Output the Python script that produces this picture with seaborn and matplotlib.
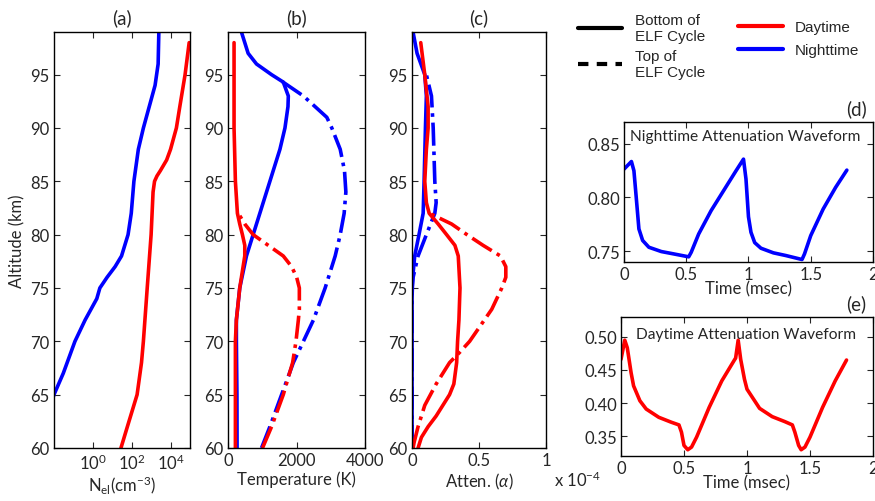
import seaborn as sns
import matplotlib.pyplot as plt
from matplotlib.lines import Line2D

sns.set_style('ticks')
plt.rcParams['font.family'] = ['Lato', 'DejaVu Sans']
plt.rcParams['mathtext.fontset'] = 'custom'
plt.rcParams['mathtext.rm'] = 'Lato'
plt.rcParams['mathtext.it'] = 'Lato:italic'
plt.rcParams['xtick.direction'] = 'in'
plt.rcParams['ytick.direction'] = 'in'
plt.rcParams['xtick.top'] = True
plt.rcParams['ytick.right'] = True
plt.rcParams['axes.edgecolor'] = 'black'
plt.rcParams['axes.linewidth'] = 1.0
plt.rcParams['font.size'] = 12

RED = '#ff0000'
BLUE = '#0000ff'
LW = 2.6

# (a) electron density
a_alt_night = [63, 65, 67, 70, 72, 74, 75, 76, 77, 78, 80, 82, 85, 88, 90, 92, 94, 96, 99]
a_ne_night = [0.004, 0.01, 0.03, 0.12, 0.4, 1.6, 2.3, 5.4, 14, 30, 65, 95, 130, 220, 400, 800, 1600, 2300, 2500]
a_alt_day = [60, 62, 65, 68, 70, 75, 80, 84, 85, 85.5, 86, 87, 88, 90, 92, 95, 98]
a_ne_day = [28, 60, 190, 320, 400, 630, 1000, 1260, 1500, 2000, 3000, 6300, 10000, 20000, 30000, 56000, 91000]

# (b) temperature
b_alt_night_bot = [60, 65, 70, 72, 75, 78, 80, 85, 88, 90, 92, 93, 94.3, 95, 96, 97, 99]
b_T_night_bot = [264, 260, 244, 244, 342, 538, 733, 1222, 1515, 1662, 1750, 1760, 1613, 1271, 831, 587, 391]
b_alt_night_top = [60, 62, 65, 68, 70, 72, 75, 78, 80, 82, 84, 86, 88, 90, 91, 93, 94.5]
b_T_night_top = [978, 1222, 1564, 1906, 2200, 2493, 2835, 3128, 3275, 3390, 3440, 3400, 3275, 3030, 2884, 2200, 1515]
b_alt_day_bot = [60, 70, 72, 75, 77, 78, 79, 80, 81, 82, 85, 90, 98]
b_T_day_bot = [215, 215, 244, 342, 440, 489, 489, 420, 342, 274, 215, 176, 176]
b_alt_day_top = [60, 62, 65, 68, 70, 72, 73, 75, 76, 77, 78, 79, 80, 81, 82]
b_T_day_top = [1007, 1271, 1613, 1886, 1984, 2053, 2082, 2082, 2004, 1857, 1613, 1173, 733, 489, 300]

# (c) attenuation, units of 1e-4
c_alt_night_bot = [60, 74, 76, 78, 80, 82, 85, 90, 93, 95, 97, 99]
c_att_night_bot = [0, 0, 0.005, 0.02, 0.052, 0.083, 0.09, 0.10, 0.107, 0.095, 0.0375, 0.0075]
c_alt_night_top = [60, 75, 76, 78, 80, 82, 83, 85, 90, 93, 95]
c_att_night_top = [0, 0, 0.008, 0.045, 0.107, 0.17, 0.18, 0.17, 0.158, 0.145, 0.107]
c_alt_day_bot = [60, 61, 62, 63, 65, 66, 68, 70, 72, 75, 78, 79, 80, 81, 82, 83, 85, 88, 90, 92, 95, 98]
c_att_day_bot = [0.045, 0.07, 0.12, 0.18, 0.28, 0.312, 0.333, 0.34, 0.35, 0.358, 0.345, 0.32, 0.258, 0.195, 0.128, 0.107, 0.095, 0.107, 0.12, 0.12, 0.095, 0.065]
c_alt_day_top = [60, 60.5, 62, 64, 66, 68, 69, 70, 73, 75, 76, 77, 78, 79, 80, 81, 82]
c_att_day_top = [0.008, 0.015, 0.045, 0.095, 0.18, 0.28, 0.358, 0.43, 0.595, 0.67, 0.70, 0.70, 0.66, 0.53, 0.41, 0.295, 0.13]

# (d) nighttime waveform
d_t = [0, 0.06, 0.08, 0.1, 0.12, 0.15, 0.2, 0.3, 0.4, 0.52, 0.54, 0.6, 0.7, 0.8, 0.9, 0.96,
       0.98, 1.0, 1.02, 1.05, 1.1, 1.2, 1.3, 1.43, 1.45, 1.5, 1.6, 1.7, 1.79]
d_att = [0.8262, 0.8333, 0.8247, 0.798, 0.7707, 0.760, 0.7537, 0.7497, 0.7475, 0.7448, 0.749,
         0.766, 0.7877, 0.8062, 0.8247, 0.8355, 0.817, 0.782, 0.7676, 0.758, 0.7528, 0.7485,
         0.746, 0.7423, 0.7475, 0.7645, 0.7892, 0.8093, 0.8253]

# (e) daytime waveform
e_t = [0, 0.03, 0.05, 0.08, 0.1, 0.15, 0.2, 0.3, 0.4, 0.46, 0.48, 0.5, 0.53, 0.56, 0.6, 0.7,
       0.8, 0.9, 0.91, 0.93, 0.95, 0.98, 1.0, 1.1, 1.2, 1.3, 1.36, 1.38, 1.41, 1.43, 1.46,
       1.5, 1.6, 1.7, 1.79]
e_att = [0.466, 0.495, 0.4835, 0.446, 0.426, 0.4035, 0.391, 0.3785, 0.371, 0.367, 0.356,
         0.336, 0.3295, 0.3335, 0.3485, 0.3935, 0.4335, 0.465, 0.468, 0.495, 0.466, 0.436,
         0.421, 0.392, 0.3795, 0.372, 0.367, 0.356, 0.336, 0.3295, 0.3335, 0.3485, 0.3935,
         0.4335, 0.465]

fig = plt.figure(figsize=(8.75, 5.02), dpi=100)
ax_a = fig.add_axes([0.0617, 0.1056, 0.1554, 0.8287])
ax_b = fig.add_axes([0.2606, 0.1056, 0.1566, 0.8287])
ax_c = fig.add_axes([0.4709, 0.1056, 0.1531, 0.8287])
ax_d = fig.add_axes([0.7131, 0.4761, 0.2846, 0.2789])
ax_e = fig.add_axes([0.7097, 0.0896, 0.2880, 0.2769])


def prof(ax, x, y, color, ls='-'):
    sns.lineplot(x=x, y=y, ax=ax, color=color, lw=LW, linestyle=ls,
                 sort=False, estimator=None)


prof(ax_a, a_ne_night, a_alt_night, BLUE)
prof(ax_a, a_ne_day, a_alt_day, RED)
ax_a.set_xscale('log')
ax_a.set_xlim(1e-2, 1e5)
ax_a.set_xticks([1, 1e2, 1e4])
ax_a.set_xticklabels([r'$\mathregular{10^{0}}$', r'$\mathregular{10^{2}}$', r'$\mathregular{10^{4}}$'])
ax_a.minorticks_off()
ax_a.set_xlabel(r'$\mathregular{N_{el}(cm^{-3})}$', labelpad=1)
ax_a.set_ylabel('Altitude (km)')

prof(ax_b, b_T_night_top, b_alt_night_top, BLUE, '-.')
prof(ax_b, b_T_night_bot, b_alt_night_bot, BLUE)
prof(ax_b, b_T_day_top, b_alt_day_top, RED, '-.')
prof(ax_b, b_T_day_bot, b_alt_day_bot, RED)
ax_b.set_xlim(0, 4000)
ax_b.set_xticks([0, 2000, 4000])
ax_b.set_xlabel('Temperature (K)', labelpad=2)

prof(ax_c, c_att_night_top, c_alt_night_top, BLUE, '-.')
prof(ax_c, c_att_night_bot, c_alt_night_bot, BLUE)
prof(ax_c, c_att_day_top, c_alt_day_top, RED, '-.')
prof(ax_c, c_att_day_bot, c_alt_day_bot, RED)
ax_c.set_xlim(0, 1)
ax_c.set_xticks([0, 0.5, 1])
ax_c.set_xticklabels(['0', '0.5', '1'])
ax_c.set_xlabel(r'Atten. ($\alpha$)', labelpad=2)
ax_c.text(1.06, -0.075, r'x 10$^{-4}$', transform=ax_c.transAxes,
          ha='left', va='center', fontsize=12)

for ax, t in zip([ax_a, ax_b, ax_c], ['(a)', '(b)', '(c)']):
    ax.set_ylim(60, 99)
    ax.set_yticks(range(60, 100, 5))
    ax.set_title(t, fontsize=13.5, pad=6)

prof(ax_d, d_t, d_att, BLUE)
ax_d.set_ylim(0.74, 0.87)
ax_d.set_yticks([0.75, 0.80, 0.85])
ax_d.text(0.025, 0.9, 'Nighttime Attenuation Waveform', transform=ax_d.transAxes,
          ha='left', va='center', fontsize=11.2)
ax_d.text(0.975, 1.1, '(d)', transform=ax_d.transAxes, ha='right', va='center', fontsize=13.5)

prof(ax_e, e_t, e_att, RED)
ax_e.set_ylim(0.32, 0.53)
ax_e.set_yticks([0.35, 0.40, 0.45, 0.50])
ax_e.text(0.06, 0.88, 'Daytime Attenuation Waveform', transform=ax_e.transAxes,
          ha='left', va='center', fontsize=11.2)
ax_e.text(0.975, 1.1, '(e)', transform=ax_e.transAxes, ha='right', va='center', fontsize=13.5)

for ax in [ax_d, ax_e]:
    ax.set_xlim(0, 2)
    ax.set_xticks([0, 0.5, 1, 1.5, 2])
    ax.set_xticklabels(['0', '0.5', '1', '1.5', '2'])
    ax.yaxis.set_major_formatter(plt.FormatStrFormatter('%.2f'))
    ax.set_xlabel('Time (msec)', labelpad=-1)

for ax in [ax_a, ax_b, ax_c, ax_d, ax_e]:
    ax.tick_params(length=4, width=0.8, labelsize=12, pad=3)
    for s in ax.spines.values():
        s.set_color('black')

# legends
h_style = [Line2D([], [], color='black', lw=3),
           Line2D([], [], color='black', lw=3, linestyle=(0, (2.5, 2)))]
fig.legend(h_style, ['Bottom of\nELF Cycle', 'Top of\nELF Cycle'],
           loc='upper left', bbox_to_anchor=(0.645, 1.0), frameon=False,
           prop={'family': 'Liberation Sans', 'size': 11}, handlelength=2.9,
           labelspacing=0.4, handletextpad=0.8)
h_time = [Line2D([], [], color=RED, lw=3), Line2D([], [], color=BLUE, lw=3)]
fig.legend(h_time, ['Daytime', 'Nighttime'], loc='upper left',
           bbox_to_anchor=(0.828, 0.985), frameon=False,
           prop={'family': 'Liberation Sans', 'size': 11}, handlelength=2.9,
           labelspacing=0.6, handletextpad=0.8)

fig.savefig('out.png', dpi=100)
